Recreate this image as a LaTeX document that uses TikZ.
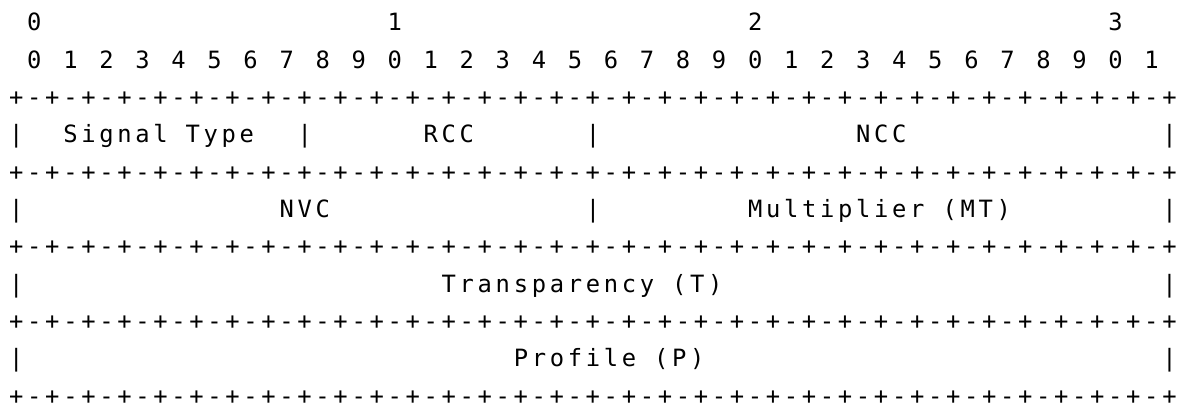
\documentclass[tikz,border=0pt]{standalone}
\usepackage{fontspec}
\newfontfamily\asciifont{DejaVu Sans Mono}[LetterSpace=15.5]
\usetikzlibrary{positioning}

% one separator row: 32 bit cells
\newcommand\sepline{+-+-+-+-+-+-+-+-+-+-+-+-+-+-+-+-+-+-+-+-+-+-+-+-+-+-+-+-+-+-+-+-+}

\begin{document}
\begin{tikzpicture}[x=18.02pt, y=-37.3pt,
    asc/.style={font=\asciifont\fontsize{23.8pt}{27pt}\selectfont,
                execute at begin node={\spaceskip=18.02pt\relax},
                inner sep=0pt, anchor=base west}]
    \useasboundingbox (0pt,0pt) rectangle (1184pt,-406pt);

    \begin{scope}[shift={(9.0pt,-31.0pt)}]
    % Bit numbering
    \foreach \t in {0,...,3}
        \node[asc] (ten\t) at ({20*\t+1},0) {\t};
    \foreach \b in {0,...,31} {
        \pgfmathtruncatemacro\d{mod(\b,10)}
        \node[asc] (bit\b) at ({2*\b+1},1) {\d};
    }

    % Separator rows
    \foreach \k in {2,4,...,10}
        \node[asc, text depth=0pt] (sep\k) at (0,\k) {\sepline};

    % Field borders
    \foreach \c/\k in {0/3,16/3,32/3,64/3,0/5,32/5,64/5,0/7,64/7,0/9,64/9}
        \node[asc] (bar\k-\c) at (\c,\k) {|};

    % Fields
    \node[asc] (sigtype) at (3,3) {Signal Type};
    \node[asc] (rcc) at (23,3) {RCC};
    \node[asc] (ncc) at (47,3) {NCC};
    \node[asc] (nvc) at (15,5) {NVC};
    \node[asc] (mult) at (41,5) {Multiplier (MT)};
    \node[asc] (transp) at (24,7) {Transparency (T)};
    \node[asc] (profile) at (28,9) {Profile (P)};
    \end{scope}
\end{tikzpicture}
\end{document}
